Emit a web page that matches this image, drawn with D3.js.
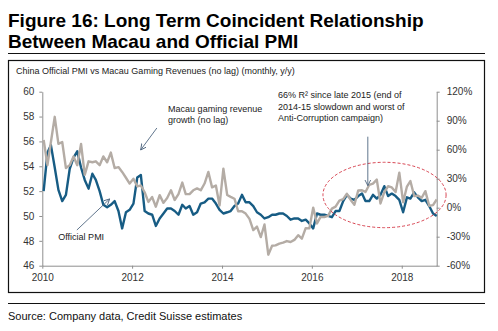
<!DOCTYPE html>
<html>
<head>
<meta charset="utf-8">
<script src="https://cdn.jsdelivr.net/npm/d3@7"></script>
<style>
  body { margin: 0; background: #fff; }
  svg { display: block; font-family: "Liberation Sans", Arial, sans-serif; }
  .axis text { font-size: 10px; fill: #333; }
  .axis path, .axis line { stroke: #8f8f8f; }
  .annotation text { font-size: 9px; fill: #222; }
  .annotation line { stroke: #4f6680; stroke-width: 0.9; }
</style>
</head>
<body>
<div id="chart"></div>
<script>
// China official PMI, monthly, first value sits on the 2010 tick
const pmi = [
  52.0, 55.1, 55.7, 53.9, 52.1, 51.2, 51.7, 53.8, 54.7, 55.2, 53.9,
  52.9, 52.2, 53.4, 52.9, 52.0, 50.9, 50.7, 50.9, 51.2, 50.4, 49.0, 50.3,
  50.5, 51.0, 53.1, 53.3, 50.4, 50.2, 50.1, 49.2, 49.8, 50.2, 50.6, 50.6,
  50.4, 50.1, 50.9, 50.6, 50.8, 50.1, 50.3, 51.0, 51.1, 51.4, 51.4, 51.0,
  50.5, 50.2, 50.3, 50.4, 50.8, 51.0, 51.7, 51.1, 51.1, 50.8, 50.3, 50.1,
  49.8, 49.9, 50.1, 50.1, 50.2, 50.2, 50.0, 49.7, 49.8, 49.8, 49.6, 49.7,
  49.4, 49.0, 50.2, 50.1, 50.1, 50.0, 49.9, 50.4, 50.4, 51.2, 51.7, 51.4,
  51.3, 51.6, 51.8, 51.2, 51.2, 51.7, 51.4, 51.7, 52.4, 51.6, 51.8, 51.6,
  51.3, 50.3, 51.5, 51.4, 51.9, 51.5, 51.2, 51.3, 50.8, 50.2, 50.0
];

// Macau gaming revenue growth, y/y %, same months
const macauGrowth = [
  70, 44, 68, 94, 66, 68, 41, 44, 53, 44, 66,
  34, 48, 47, 48, 44, 53, 47, 57, 41, 42, 37, 31,
  25, 30, 22, 23, 16, 6, 11, 1, 13, 5, 10, 18,
  8, 14, 26, 14, 14, 18, 20, 18, 25, 37, 21, 23,
  2.3, 40.3, 13.1, 11.2, 9.3, -3.7, -3.6, -6.1, -11.6, -23.2, -19.6, -30.4,
  -17.4, -48.6, -39.4, -39.0, -37.1, -36.2, -34.5, -35.5, -33.3, -28.4, -32.0, -21.2,
  -21.4, 0.1, -16.3, -9.5, -9.6, -8.5, -1.0, 1.1, 7.4, 8.8, 14.4, 8.0,
  3.1, 17.8, 18.1, 16.3, 23.7, 24.9, 29.1, 4.4, 16.1, 22.2, 21.0, 16.2,
  36.3, 5.7, 21.9, 27.6, 12.1, 12.5, 10.3, 17.1, 2.0, 2.6, 8.5
];

const pmiTicks = [46, 48, 50, 52, 54, 56, 58, 60];
const growthTicks = [-60, -30, 0, 30, 60, 90, 120];
const yearTicks = [2010, 2012, 2014, 2016, 2018];

const titleLines = [
  "Figure 16: Long Term Coincident Relationship",
  "Between Macau and Official PMI"
];
const subtitle = "China Official PMI vs Macau Gaming Revenues (no lag) (monthly, y/y)";
const source = "Source: Company data, Credit Suisse estimates";

// annotation anchors in chart terms (decimal year, PMI value)
const notes = [
  { lines: ["Macau gaming revenue", "growth (no lag)"], at: [2012.80, 58.39],
    arrow: [[2012.55, 57.08], [2012.19, 55.31]] },
  { lines: ["Official PMI"], at: [2010.356, 48.07],
    arrow: [[2010.77, 48.87], [2011.50, 51.37]] },
  { lines: ["66% R\u00b2 since late 2015 (end of", "2014-15 slowdown and worst of", "Anti-Corruption campaign)"],
    at: [2015.244, 59.47],
    arrow: [[2017.244, 56.38], [2017.244, 52.44]] }
];
const focus = { year: 2017.616, pmi: 51.69, years: 1.371, points: 2.63 };

function decYear(y) {
  const y0 = Math.floor(y);
  const a = new Date(y0, 0, 1), b = new Date(y0 + 1, 0, 1);
  return new Date(+a + (y - y0) * (b - a));
}

class CoincidentChart {
  constructor(_parentElement) {
    this.parentElement = _parentElement;
    this.initVis();
  }

  initVis() {
    let vis = this;

    vis.width = 498;
    vis.height = 331;
    vis.margin = { top: 91.7, right: 61.3, bottom: 65.3, left: 42.3 };

    vis.svg = d3.select("#" + vis.parentElement)
      .append("svg")
      .attr("width", vis.width)
      .attr("height", vis.height);

    vis.months = pmi.map((d, i) => new Date(2010, i, 12));

    vis.x = d3.scaleTime()
      .domain([new Date(2010, 0, 1), new Date(2018, 9, 12)])
      .range([vis.margin.left, vis.width - vis.margin.right]);

    vis.yLeft = d3.scaleLinear()
      .domain([46, 60])
      .range([vis.height - vis.margin.bottom, vis.margin.top]);

    vis.yRight = d3.scaleLinear()
      .domain([-60, 120])
      .range([vis.height - vis.margin.bottom, vis.margin.top]);

    // frame, title rules
    vis.svg.append("rect")
      .attr("x", 8.5).attr("y", 60.5)
      .attr("width", 476).attr("height", 232)
      .attr("fill", "none").attr("stroke", "#111").attr("stroke-width", 1.2);

    vis.svg.append("line")
      .attr("x1", 8).attr("x2", 485).attr("y1", 53.5).attr("y2", 53.5)
      .attr("stroke", "#111").attr("stroke-width", 1.2);

    vis.svg.append("line")
      .attr("x1", 8).attr("x2", 485).attr("y1", 303.5).attr("y2", 303.5)
      .attr("stroke", "#111").attr("stroke-width", 1);

    vis.svg.selectAll(".title-line")
      .data(titleLines)
      .join("text")
      .attr("class", "title-line")
      .attr("x", 8)
      .attr("y", (d, i) => 27 + i * 21)
      .attr("font-size", 19)
      .attr("font-weight", "bold")
      .attr("fill", "#000")
      .text((d) => d);

    vis.svg.append("text")
      .attr("x", 16).attr("y", 74)
      .attr("font-size", 9)
      .attr("fill", "#222")
      .text(subtitle);

    vis.svg.append("text")
      .attr("x", 8).attr("y", 320)
      .attr("font-size", 11)
      .attr("fill", "#111")
      .text(source);

    vis.svg.append("defs")
      .append("marker")
      .attr("id", "arrow")
      .attr("markerUnits", "userSpaceOnUse")
      .attr("markerWidth", 8).attr("markerHeight", 8)
      .attr("refX", 6).attr("refY", 3)
      .attr("orient", "auto")
      .append("path")
      .attr("d", "M0,0L6,3L0,6")
      .attr("fill", "none")
      .attr("stroke", "#4f6680")
      .attr("stroke-width", 0.9);

    vis.xAxisGroup = vis.svg.append("g").attr("class", "x-axis axis");
    vis.yLeftGroup = vis.svg.append("g").attr("class", "y-axis axis");
    vis.yRightGroup = vis.svg.append("g").attr("class", "y2-axis axis");
    vis.linesGroup = vis.svg.append("g").attr("class", "lines");
    vis.noteGroup = vis.svg.append("g").attr("class", "annotation");

    vis.wrangleData();
  }

  wrangleData() {
    let vis = this;

    vis.pmiData = pmi.map((v, i) => ({ date: vis.months[i], value: v }));
    vis.macauData = macauGrowth.map((v, i) => ({ date: vis.months[i], value: v }));

    vis.updateVis();
  }

  updateVis() {
    let vis = this;

    vis.xAxisGroup
      .attr("transform", `translate(0,${vis.height - vis.margin.bottom})`)
      .call(d3.axisBottom(vis.x)
        .tickValues(yearTicks.map((y) => new Date(y, 0, 1)))
        .tickFormat(d3.timeFormat("%Y"))
        .tickSizeInner(3).tickSizeOuter(0).tickPadding(5));

    vis.yLeftGroup
      .attr("transform", `translate(${vis.margin.left},0)`)
      .call(d3.axisLeft(vis.yLeft)
        .tickValues(pmiTicks)
        .tickSizeInner(3).tickSizeOuter(0).tickPadding(5));

    vis.yRightGroup
      .attr("transform", `translate(${vis.width - vis.margin.right},0)`)
      .call(d3.axisRight(vis.yRight)
        .tickValues(growthTicks)
        .tickFormat((d) => d + "%")
        .tickSizeInner(3).tickSizeOuter(0).tickPadding(7));

    vis.svg.selectAll(".axis text").attr("font-family", null).attr("font-size", null);

    const pmiLine = d3.line()
      .x((d) => vis.x(d.date))
      .y((d) => vis.yLeft(d.value));

    const macauLine = d3.line()
      .x((d) => vis.x(d.date))
      .y((d) => vis.yRight(d.value));

    vis.linesGroup.selectAll(".series")
      .data([
        { key: "pmi", path: pmiLine(vis.pmiData), color: "#175c84" },
        { key: "macau", path: macauLine(vis.macauData), color: "#b4aca5" }
      ])
      .join("path")
      .attr("class", "series")
      .attr("d", (d) => d.path)
      .attr("fill", "none")
      .attr("stroke", (d) => d.color)
      .attr("stroke-width", 2.4)
      .attr("stroke-linejoin", "round");

    // dashed ellipse round the post-2015 period
    const cx = vis.x(decYear(focus.year));
    const cy = vis.yLeft(focus.pmi);
    vis.noteGroup.append("ellipse")
      .attr("cx", cx)
      .attr("cy", cy)
      .attr("rx", vis.x(decYear(focus.year + focus.years)) - cx)
      .attr("ry", cy - vis.yLeft(focus.pmi + focus.points))
      .attr("fill", "none")
      .attr("stroke", "#d2313f")
      .attr("stroke-width", 0.9)
      .attr("stroke-dasharray", "3,2");

    const px = (p) => [vis.x(decYear(p[0])), vis.yLeft(p[1])];

    notes.forEach((n) => {
      const [a, b] = [px(n.arrow[0]), px(n.arrow[1])];
      vis.noteGroup.append("line")
        .attr("x1", a[0]).attr("y1", a[1])
        .attr("x2", b[0]).attr("y2", b[1])
        .attr("marker-end", "url(#arrow)");

      const [tx, ty] = px(n.at);
      vis.noteGroup.append("text")
        .attr("x", tx).attr("y", ty)
        .selectAll("tspan")
        .data(n.lines)
        .join("tspan")
        .attr("x", tx)
        .attr("dy", (d, i) => (i === 0 ? 0 : 11.5))
        .text((d) => d);
    });
  }
}

new CoincidentChart("chart");
</script>
</body>
</html>
